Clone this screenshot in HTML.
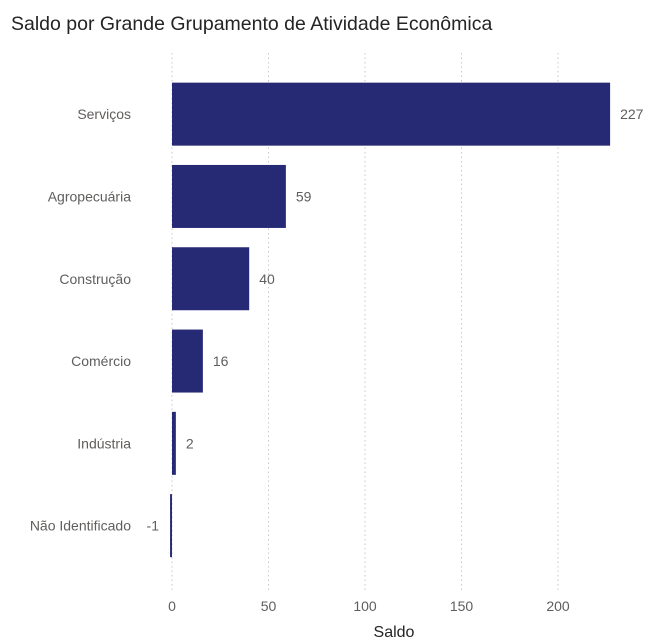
<!DOCTYPE html>
<html><head><meta charset="utf-8"><style>
body{margin:0;background:#fff;width:660px;height:642px;overflow:hidden;font-family:"Liberation Sans",sans-serif}
</style></head><body>
<svg width="660" height="642" style="position:absolute;left:0;top:0">
<text x="11" y="30" font-size="19.5" fill="#252423">Saldo por Grande Grupamento de Atividade Econômica</text>
<g id="grid"></g><g id="bars"></g><g id="ticks"></g>
<text x="394" y="637" font-size="16" fill="#252423" text-anchor="middle">Saldo</text>
</svg>
<script>
const categories=["Serviços","Agropecuária","Construção","Comércio","Indústria","Não Identificado"];
const values=[227,59,40,16,2,-1];
const tickValues=[0,50,100,150,200];
const ns="http://www.w3.org/2000/svg";
const x0=172,scale=1.93,bandTop=73,band=82.3,barH=63;
const xs=v=>x0+v*scale;
const yBand=i=>bandTop+i*band+(band-barH)/2;
function mk(t,a,p){const e=document.createElementNS(ns,t);for(const k in a)e.setAttribute(k,a[k]);document.getElementById(p).appendChild(e);return e;}
tickValues.forEach(v=>{
 const l=mk('line',{x1:xs(v),x2:xs(v),y1:53,y2:590,stroke:'#c8c8c8','stroke-dasharray':'1.5,3'},'grid');
 
 
 const t=mk('text',{x:xs(v),y:611,'font-size':14,fill:'#605e5c','text-anchor':'middle'},'ticks');
 t.textContent=v;
 
 
});
categories.forEach((c,i)=>{
 const v=values[i],y=yBand(i);
 const x=Math.min(xs(0),xs(v)),w=Math.max(Math.abs(xs(v)-xs(0)),1.5);
 const r=mk('rect',{x:x,y:y,width:w,height:barH,fill:'#262a74'},'bars');
 
 
 const lab=mk('text',{x:131,y:y+barH/2+5,'font-size':14,fill:'#605e5c','text-anchor':'end'},'bars');
 lab.textContent=c;
 
 
 const vl=mk('text',{x:v>=0?xs(v)+10:x0-13,y:y+barH/2+5,'font-size':14,fill:'#605e5c','text-anchor':v>=0?'start':'end'},'bars');
 vl.textContent=v;
 
 
});
</script>
</body></html>
